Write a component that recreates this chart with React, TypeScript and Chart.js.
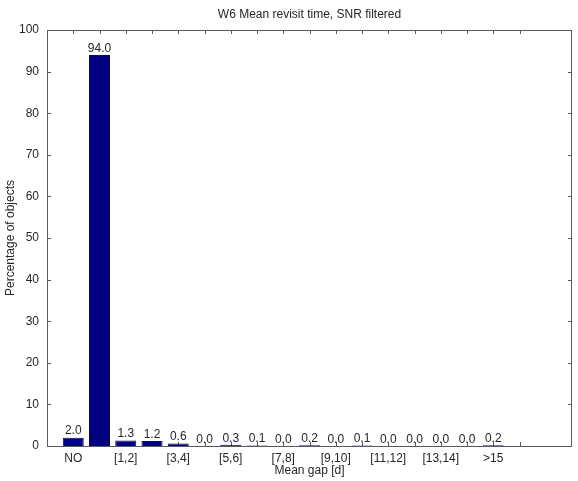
import React, { useEffect, useRef } from "react";
import { Chart, registerables } from "chart.js";

Chart.register(...registerables);

// Mean gap bins (days) and share of objects per bin
const categories = [
  "NO", "[0,1]", "[1,2]", "[2,3]", "[3,4]", "[4,5]", "[5,6]", "[6,7]", "[7,8]",
  "[8,9]", "[9,10]", "[10,11]", "[11,12]", "[12,13]", "[13,14]", "[14,15]", ">15",
];
const percentages = [2.0, 94.0, 1.3, 1.2, 0.6, 0.0, 0.3, 0.1, 0.0, 0.2, 0.0, 0.1, 0.0, 0.0, 0.0, 0.0, 0.2];
// only every other bin is labelled on the axis
const labelledBins = [0, 2, 4, 6, 8, 10, 12, 14, 16];
const yTicks = [0, 10, 20, 30, 40, 50, 60, 70, 80, 90, 100];

const TITLE = "W6 Mean revisit time, SNR filtered";
const X_TITLE = "Mean gap [d]";
const Y_TITLE = "Percentage of objects";

const FONT_FAMILY = '"Liberation Sans", Arial, sans-serif';
const FONT_SIZE = 12;
const TEXT_COLOR = "#262626";
const AXIS_COLOR = "#5a5a5a";

const W = 578;
const H = 481;

const framePlugin = {
  id: "frame",
  beforeDatasetsDraw(chart: any) {
    const { ctx, chartArea, scales } = chart;
    const xs = scales.x;
    const ys = scales.y;
    ctx.save();
    ctx.strokeStyle = AXIS_COLOR;
    ctx.lineWidth = 1;
    const tl = 4;
    // inward tick marks on all four sides
    for (let i = 0; i <= 17; i++) {
      const px = Math.round(xs.getPixelForValue(i)) + 0.5;
      ctx.beginPath();
      ctx.moveTo(px, chartArea.bottom);
      ctx.lineTo(px, chartArea.bottom - tl);
      ctx.moveTo(px, chartArea.top);
      ctx.lineTo(px, chartArea.top + tl);
      ctx.stroke();
    }
    for (const v of yTicks) {
      const py = Math.round(ys.getPixelForValue(v)) + 0.5;
      ctx.beginPath();
      ctx.moveTo(chartArea.left, py);
      ctx.lineTo(chartArea.left + tl, py);
      ctx.moveTo(chartArea.right, py);
      ctx.lineTo(chartArea.right - tl, py);
      ctx.stroke();
    }
    ctx.restore();
  },
  afterDraw(chart: any) {
    const { ctx, chartArea } = chart;
    ctx.save();
    ctx.strokeStyle = AXIS_COLOR;
    ctx.lineWidth = 1;
    const l = Math.round(chartArea.left) + 0.5;
    const r = Math.round(chartArea.right) - 0.5;
    const t = Math.round(chartArea.top) + 0.5;
    const b = Math.round(chartArea.bottom) + 0.5;
    ctx.strokeRect(l, t, r - l, b - t);

    ctx.fillStyle = TEXT_COLOR;
    ctx.font = `${FONT_SIZE}px ${FONT_FAMILY}`;
    ctx.textAlign = "center";
    ctx.textBaseline = "middle";
    const cx = (chartArea.left + chartArea.right) / 2;
    ctx.fillText(TITLE, cx, 15);
    ctx.fillText(X_TITLE, cx, 471);
    ctx.translate(11, (chartArea.top + chartArea.bottom) / 2);
    ctx.rotate(-Math.PI / 2);
    ctx.fillText(Y_TITLE, 0, 0);
    ctx.restore();
  },
  afterDatasetsDraw(chart: any) {
    const { ctx } = chart;
    const meta = chart.getDatasetMeta(0);
    ctx.save();
    ctx.fillStyle = TEXT_COLOR;
    ctx.font = `${FONT_SIZE}px ${FONT_FAMILY}`;
    ctx.textAlign = "center";
    ctx.textBaseline = "bottom";
    meta.data.forEach((bar: any, i: number) => {
      ctx.fillText(percentages[i].toFixed(1), bar.x, bar.y - 0.5);
    });
    ctx.restore();
  },
};

export default function App() {
  const canvasRef = useRef<HTMLCanvasElement | null>(null);

  useEffect(() => {
    if (!canvasRef.current) return;
    const chart = new Chart(canvasRef.current, {
      type: "bar",
      data: {
        datasets: [
          {
            data: percentages.map((v, i) => ({ x: i, y: v })),
            backgroundColor: "#000080",
            borderColor: "#0a0a45",
            borderWidth: 1,
            categoryPercentage: 1,
            barPercentage: 0.8,
          },
        ],
      },
      options: {
        responsive: false,
        animation: false,
        layout: { padding: { top: 30, right: 6, left: 0, bottom: 0 } },
        plugins: {
          legend: { display: false },
          title: { display: false },
          tooltip: { enabled: false },
        },
        scales: {
          x: {
            type: "linear",
            min: -1,
            max: 19,
            offset: false,
            grid: { display: false, drawTicks: false },
            border: { display: false },
            afterFit: (s: any) => {
              s.height = 35;
            },
            afterBuildTicks: (s: any) => {
              s.ticks = labelledBins.map((v) => ({ value: v }));
            },
            ticks: {
              autoSkip: false,
              maxRotation: 0,
              padding: 5,
              color: TEXT_COLOR,
              font: { family: FONT_FAMILY, size: FONT_SIZE },
              callback: (v: any) => categories[v as number] ?? "",
            },
          },
          y: {
            min: 0,
            max: 100,
            grid: { display: false, drawTicks: false },
            border: { display: false },
            afterFit: (s: any) => {
              s.width = 47;
            },
            afterBuildTicks: (s: any) => {
              s.ticks = yTicks.map((v) => ({ value: v }));
            },
            ticks: {
              padding: 8,
              color: TEXT_COLOR,
              font: { family: FONT_FAMILY, size: FONT_SIZE },
            },
          },
        },
      },
      plugins: [framePlugin],
    });
    return () => chart.destroy();
  }, []);

  return (
    <div style={{ position: "fixed", left: 0, top: 0, width: W, height: H, background: "#fff" }}>
      <canvas ref={canvasRef} width={W} height={H} style={{ display: "block" }} />
    </div>
  );
}
